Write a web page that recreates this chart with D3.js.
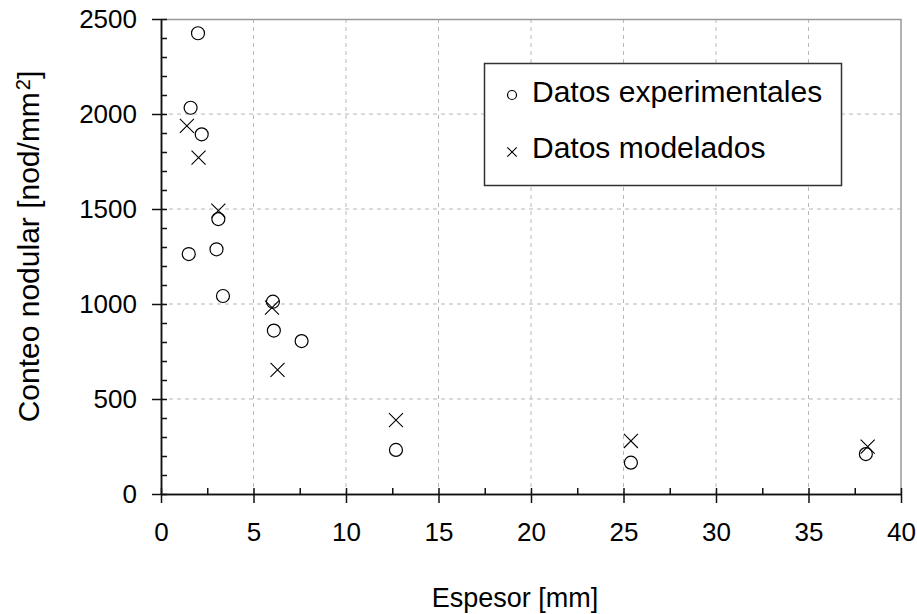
<!DOCTYPE html>
<html>
<head>
<meta charset="utf-8">
<script src="https://cdn.jsdelivr.net/npm/d3@7"></script>
<style>
  body { margin: 0; background: #fff; }
  svg text { font-family: "Liberation Sans", Arial, sans-serif; fill: #000; }
</style>
</head>
<body>
<svg></svg>
<script>
// Espesor [mm] / conteo nodular
var expX = [2.0, 1.6, 2.2, 3.1, 1.5, 3.0, 3.35, 6.05, 6.1, 7.6, 12.7, 25.4, 38.1]
var expY = [2425, 2033, 1893, 1447, 1263, 1288, 1042, 1012, 860, 805, 232, 165, 210]
var modX = [1.4, 2.03, 3.1, 6.0, 6.3, 12.7, 25.4, 38.2]
var modY = [1937, 1770, 1491, 981, 653, 389, 279, 249]

var xTicks = [0, 5, 10, 15, 20, 25, 30, 35, 40]
var xMinor = [2.5, 7.5, 12.5, 17.5, 22.5, 27.5, 32.5, 37.5]
var yTicks = [0, 500, 1000, 1500, 2000, 2500]
var yMinor = d3.range(0, 2501, 100)

var legendLabels = ["Datos experimentales", "Datos modelados"]

document.addEventListener("DOMContentLoaded", function(event) {
    drawChart()
});

function drawChart() {
    var svgWidth = 917, svgHeight = 614;
    var margin = { top: 19, right: 16, bottom: 120, left: 161 };
    var width = svgWidth - margin.left - margin.right;
    var height = svgHeight - margin.top - margin.bottom;
    var svg = d3.select('svg')
        .attr("width", svgWidth)
        .attr("height", svgHeight);

    var g = svg.append("g")
        .attr("transform", "translate(" + margin.left + "," + margin.top + ")");

    var x = d3.scaleLinear().domain([0, 40]).range([0, width]);
    var y = d3.scaleLinear().domain([0, 2500]).range([height, 0]);

    // dashed grid
    g.append("g").selectAll("line")
        .data(xTicks.slice(1, -1))
        .enter().append("line")
        .attr("x1", function(d) { return x(d) }).attr("x2", function(d) { return x(d) })
        .attr("y1", 0).attr("y2", height)
        .attr("stroke", "#b8b8b8").attr("stroke-dasharray", "4,4");
    g.append("g").selectAll("line")
        .data(yTicks.slice(1, -1))
        .enter().append("line")
        .attr("y1", function(d) { return y(d) }).attr("y2", function(d) { return y(d) })
        .attr("x1", 0).attr("x2", width)
        .attr("stroke", "#b8b8b8").attr("stroke-dasharray", "4,4");

    // top / right frame
    g.append("path")
        .attr("d", "M0,0.5H" + width + "V" + height)
        .attr("fill", "none")
        .attr("stroke", "#999")
        .attr("stroke-width", 1.5);

    // Y axis: major ticks cross, minor ticks inward
    var yAxis = g.append("g")
        .call(d3.axisLeft(y).tickValues(yTicks).tickSize(9).tickSizeOuter(0).tickPadding(15).tickFormat(d3.format("d")));
    g.append("g")
        .call(d3.axisRight(y).tickValues(yMinor).tickSize(6).tickSizeOuter(0).tickFormat(""));
    yAxis.selectAll("text").attr("font-size", "26px").attr("font-family", "Liberation Sans, Arial, sans-serif");

    // X axis
    var xAxis = g.append("g")
        .attr("transform", "translate(0," + height + ")")
        .call(d3.axisBottom(x).tickValues(xTicks).tickSize(9).tickSizeOuter(0).tickPadding(20));
    g.append("g")
        .attr("transform", "translate(0," + height + ")")
        .call(d3.axisTop(x).tickValues(xTicks.concat(xMinor)).tickSize(6).tickSizeOuter(0).tickFormat(""));
    xAxis.selectAll("text").attr("font-size", "26px").attr("font-family", "Liberation Sans, Arial, sans-serif");

    g.selectAll(".domain, .tick line").attr("stroke", "#111").attr("stroke-width", 1.5);

    // axis titles
    g.append("text")
        .attr("x", width / 2 - 16)
        .attr("y", height + 113)
        .attr("text-anchor", "middle")
        .attr("font-size", "27px")
        .text("Espesor [mm]");

    var yt = g.append("text")
        .attr("transform", "rotate(-90)")
        .attr("x", -height / 2 + 10)
        .attr("y", -122)
        .attr("text-anchor", "middle")
        .attr("font-size", "30px");
    yt.append("tspan").text("Conteo nodular [nod/mm");
    yt.append("tspan").attr("dy", "-0.45em").attr("dx", "2").attr("font-size", "20px").text("2");
    yt.append("tspan").attr("dy", "0.3em").text("]");

    // data marks
    var exp = expX.map(function(v, i) { return [v, expY[i]] })
    var mod = modX.map(function(v, i) { return [v, modY[i]] })

    g.append("g").selectAll("circle")
        .data(exp)
        .enter().append("circle")
        .attr("cx", function(d) { return x(d[0]) })
        .attr("cy", function(d) { return y(d[1]) })
        .attr("r", 6.5)
        .attr("fill", "none")
        .attr("stroke", "#000")
        .attr("stroke-width", 1.2);

    var cross = d3.symbol().type(d3.symbolX).size(130);
    g.append("g").selectAll("path")
        .data(mod)
        .enter().append("path")
        .attr("transform", function(d) { return "translate(" + x(d[0]) + "," + y(d[1]) + ")" })
        .attr("d", cross)
        .attr("fill", "none")
        .attr("stroke", "#000")
        .attr("stroke-width", 1.1);

    // legend
    var lg = svg.append("g").attr("transform", "translate(484,63)");
    lg.append("rect")
        .attr("x", 0.5).attr("y", 0.5)
        .attr("width", 357).attr("height", 122)
        .attr("fill", "#fff")
        .attr("stroke", "#333")
        .attr("stroke-width", 1.5);
    lg.append("circle")
        .attr("cx", 28).attr("cy", 32).attr("r", 4.5)
        .attr("fill", "none").attr("stroke", "#000").attr("stroke-width", 1.2);
    lg.append("path")
        .attr("transform", "translate(28,89)")
        .attr("d", d3.symbol().type(d3.symbolX).size(60))
        .attr("fill", "none").attr("stroke", "#000").attr("stroke-width", 1.1);
    lg.selectAll("text.lab")
        .data(legendLabels)
        .enter().append("text")
        .attr("class", "lab")
        .attr("x", 48)
        .attr("y", function(d, i) { return 39 + i * 56 })
        .attr("font-size", "30px")
        .text(function(d) { return d });
}
</script>
</body>
</html>
